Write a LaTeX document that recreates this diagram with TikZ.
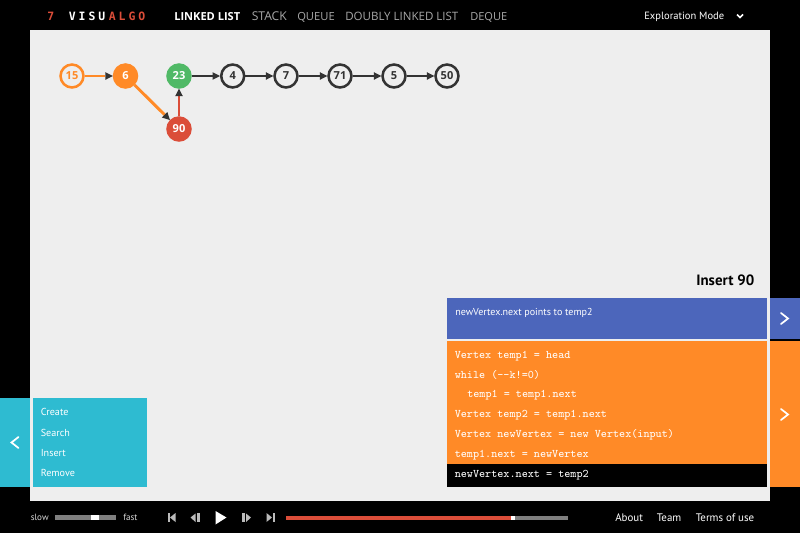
\documentclass[tikz,border=0pt]{standalone}
\usepackage{fontspec}
\setmainfont{PT Sans}
\newfontfamily\navfont{Open Sans}
\newfontfamily\logofont[LetterSpace=26]{DejaVu Sans Mono}
\usetikzlibrary{arrows.meta}
\definecolor{vgorange}{HTML}{FF8A27}
\definecolor{vgblue}{HTML}{4C66BB}
\definecolor{vgcyan}{HTML}{2EBBD1}
\definecolor{vgred}{HTML}{DB4D39}
\definecolor{vggreen}{HTML}{50B966}
\definecolor{vgdark}{HTML}{333333}
\definecolor{vggrey}{HTML}{EEEEEE}
\definecolor{vgbar}{HTML}{7F7F7F}
\definecolor{vgicon}{HTML}{BBBBBB}
\definecolor{vgnav}{HTML}{A8A8A8}
\tikzset{
 vert/.style={circle,minimum size=17.2pt,inner sep=0pt,line width=1.9pt,font=\navfont\bfseries\fontsize{8.3pt}{10pt}\selectfont},
 plainv/.style={vert,draw=vgdark,fill=vggrey,text=vgdark},
 ringv/.style={vert,draw=vgorange,fill=vggrey,text=vgorange},
 orangev/.style={vert,draw=vgorange,fill=vgorange,text=white},
 greenv/.style={vert,draw=vggreen,fill=vggreen,text=white},
 redv/.style={vert,draw=vgred,fill=vgred,text=white},
 link/.style={line width=2.2pt,draw=#1,-{Stealth[length=5.6pt,width=5.8pt,inset=0pt,line width=0pt,color=vgdark]}},
 link/.default=vgdark,
 navitem/.style={anchor=base west,inner sep=0pt,text=vgnav},
 navfs/.style={font=\navfont\fontsize{#1pt}{11pt}\selectfont},
 menuitem/.style={anchor=base west,inner sep=0pt,text=white,font=\fontsize{7.6pt}{10pt}\selectfont},
 statusitem/.style={anchor=base west,inner sep=0pt,text=white,font=\fontsize{7.55pt}{10pt}\selectfont},
 codeline/.style={anchor=base west,inner sep=0pt,text=white,font=\ttfamily\fontsize{8.7pt}{10pt}\selectfont},
 footitem/.style={anchor=base west,inner sep=0pt,text=white,font=\fontsize{8.2pt}{10pt}\selectfont},
 smalllabel/.style={anchor=base west,inner sep=0pt,text=white!85!black,font=\fontsize{6.8pt}{9pt}\selectfont},
 chev/.style={draw=white,line width=1.3pt,line cap=round,line join=miter},
 logo/.style={anchor=base west,inner sep=0pt,font=\logofont\bfseries\fontsize{8.6pt}{10pt}\selectfont},
 icon/.style={fill=vgicon,draw=none}
}
\begin{document}
\begin{tikzpicture}[x=0.75pt,y=-0.75pt]
\useasboundingbox (0,0) rectangle (800,533);
\fill[black] (0,0) rectangle (800,533);
\fill[vggrey] (30,30) rectangle (769.7,501);
% header
\node[logo,text=vgred] (l7) at (47,20) {7};
\node[logo,text=white] (lv) at (68.5,20) {VISU};
\node[logo,text=vgred] (la) at (108.5,20) {ALGO};
\node[navitem,text=white,font=\navfont\bfseries\fontsize{8.3pt}{11pt}\selectfont] (n1) at (174,20) {LINKED LIST};
\node[navitem,navfs=9.1] (n2) at (251.5,20) {STACK};
\node[navitem,navfs=8.4] (n3) at (297,20) {QUEUE};
\node[navitem,navfs=8.65] (n4) at (345,20) {DOUBLY LINKED LIST};
\node[navitem,navfs=8.3] (n5) at (470,20) {DEQUE};
\node[anchor=base west,inner sep=0pt,text=white,font=\fontsize{7.9pt}{10pt}\selectfont] (mode) at (644,19.5) {Exploration Mode};
\draw[white,line width=1.1pt] (737,14.5) -- (740,17.5) -- (743,14.5);
% graph
\node[ringv] (a) at (72,76) {15};
\node[orangev] (b) at (125.5,76) {6};
\node[greenv] (c) at (179,76) {23};
\node[plainv] (d) at (232.7,76) {4};
\node[plainv] (e) at (286,76) {7};
\node[plainv] (f) at (340,76) {71};
\node[plainv] (g) at (394,76) {5};
\node[plainv] (h) at (447,76) {50};
\node[redv] (i) at (179,129) {90};
\draw[link=vgorange] (a) -- (b);
\draw[link=vgorange] (b) -- (i);
\draw[link=vgred] (i) -- (c);
\draw[link] (c) -- (d);
\draw[link] (d) -- (e);
\draw[link] (e) -- (f);
\draw[link] (f) -- (g);
\draw[link] (g) -- (h);
% title
\node[anchor=base east,inner sep=0pt,text=black,font=\bfseries\fontsize{11.2pt}{13pt}\selectfont] (title) at (754.5,285) {Insert 90};
% status
\fill[vgblue] (447.3,297.7) rectangle (767.3,338.5);
\fill[vgblue] (769.7,298) rectangle (800,338.5);
\node[statusitem] (status) at (455,315.7) {newVertex.next points to temp2};
\draw[chev] (781,313) -- (788,318.5) -- (781,324);
% code
\fill[vgorange] (447.3,341) rectangle (767.3,464);
\fill[black] (447.3,463.7) rectangle (767.3,487);
\fill[vgorange] (769.7,341) rectangle (800,487);
\node[codeline] (c1) at (454.5,358.3) {Vertex temp1 = head};
\node[codeline] (c2) at (454.5,378) {while (--k!=0)};
\node[codeline] (c3) at (467,397.7) {temp1 = temp1.next};
\node[codeline] (c4) at (454.5,417.7) {Vertex temp2 = temp1.next};
\node[codeline] (c5) at (454.5,437.3) {Vertex newVertex = new Vertex(input)};
\node[codeline] (c6) at (454.5,457.3) {temp1.next = newVertex};
\node[codeline] (c7) at (454.5,477) {newVertex.next = temp2};
\draw[chev] (781,409) -- (788,414.5) -- (781,420);
% menu
\fill[vgcyan] (0,398) rectangle (30,487);
\fill[vgcyan] (33,398) rectangle (147,487);
\draw[chev] (18.5,437) -- (11.5,442.5) -- (18.5,448);
\node[menuitem] (m1) at (40.5,415.3) {Create};
\node[menuitem] (m2) at (40.5,436) {Search};
\node[menuitem] (m3) at (40.5,456.3) {Insert};
\node[menuitem] (m4) at (40.5,476.7) {Remove};
% footer
\node[smalllabel] (slow) at (30.5,520) {slow};
\fill[vgbar] (55,515) rectangle (116,520);
\fill[white] (91,515) rectangle (99,520);
\node[smalllabel] (fast) at (123,520) {fast};
\fill[icon] (168,513) rectangle (170,522);
\fill[icon] (175.5,513) -- (175.5,522) -- (170,517.5) -- cycle;
\fill[icon] (195.5,513.5) -- (195.5,522) -- (190.5,517.5) -- cycle;
\fill[icon] (197,513) rectangle (199.5,522);
\fill[white] (215.5,511) -- (226.5,517.5) -- (215.5,524.5) -- cycle;
\fill[icon] (242,513) rectangle (244.5,522);
\fill[icon] (246,513.5) -- (246,522) -- (251,517.5) -- cycle;
\fill[icon] (266.5,513) -- (266.5,522) -- (272,517.5) -- cycle;
\fill[icon] (272.5,513) rectangle (274.5,522);
\fill[vgbar] (285.5,515.5) rectangle (568,520);
\fill[vgred] (285.5,515.5) rectangle (511,520);
\fill[white] (511,515.5) rectangle (515,520);
\node[footitem] (f1) at (615,521.4) {About};
\node[footitem] (f2) at (656.5,521.4) {Team};
\node[footitem] (f3) at (695.5,521.4) {Terms of use};
\end{tikzpicture}
\end{document}
